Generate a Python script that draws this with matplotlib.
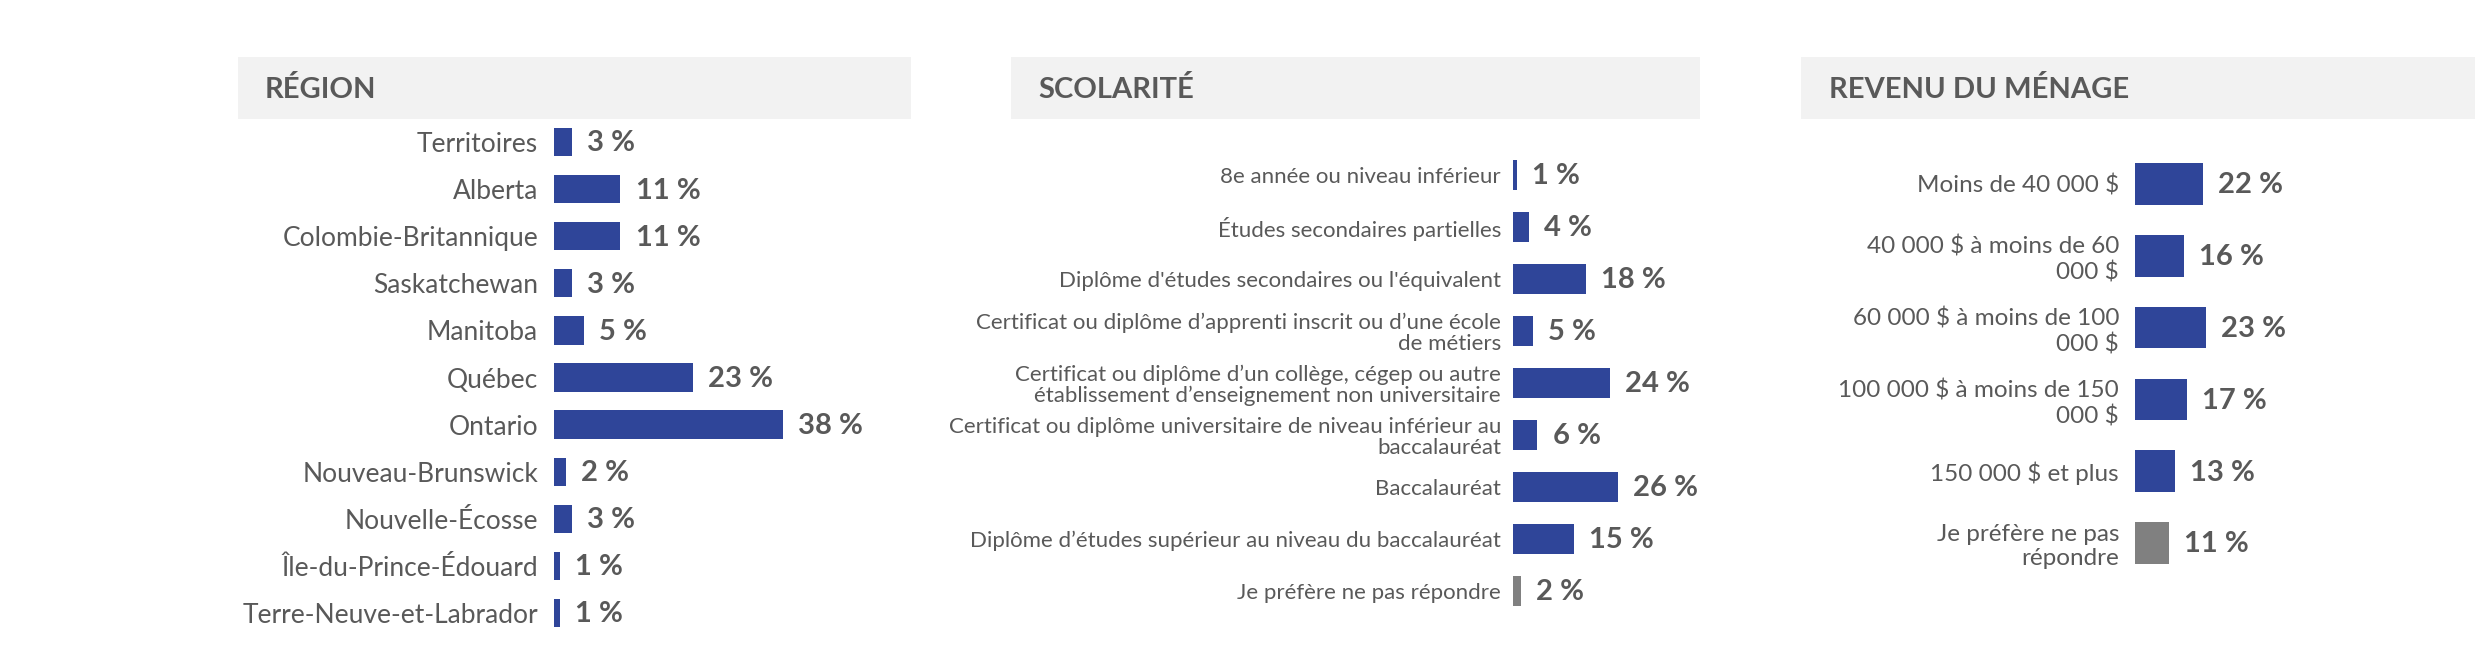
import numpy as np
import matplotlib
matplotlib.use('Agg')
import matplotlib.pyplot as plt
from matplotlib.patches import Rectangle

plt.rcParams['font.family'] = ['Lato', 'DejaVu Sans']

# data
region_labels = ['Territoires', 'Alberta', 'Colombie-Britannique', 'Saskatchewan', 'Manitoba',
                 'Québec', 'Ontario', 'Nouveau-Brunswick', 'Nouvelle-Écosse',
                 'Île-du-Prince-Édouard', 'Terre-Neuve-et-Labrador']
region_values = [3, 11, 11, 3, 5, 23, 38, 2, 3, 1, 1]

scol_labels = ['8e année ou niveau inférieur',
               'Études secondaires partielles',
               "Diplôme d'études secondaires ou l'équivalent",
               'Certificat ou diplôme d’apprenti inscrit ou d’une école\nde métiers',
               'Certificat ou diplôme d’un collège, cégep ou autre\nétablissement d’enseignement non universitaire',
               'Certificat ou diplôme universitaire de niveau inférieur au\nbaccalauréat',
               'Baccalauréat',
               'Diplôme d’études supérieur au niveau du baccalauréat',
               'Je préfère ne pas répondre']
scol_values = [1, 4, 18, 5, 24, 6, 26, 15, 2]

rev_labels = ['Moins de 40 000 $',
              '40 000 $ à moins de 60\n000 $',
              '60 000 $ à moins de 100\n000 $',
              '100 000 $ à moins de 150\n000 $',
              '150 000 $ et plus',
              'Je préfère ne pas\nrépondre']
rev_values = [22, 16, 23, 17, 13, 11]

BLUE = '#2F4599'
GREY = '#808080'
TXT = '#595959'

W, H = 2475, 650
fig = plt.figure(figsize=(W / 100, H / 100), dpi=100)


def px_axes(left, right, top, bottom):
    return fig.add_axes([left / W, 1 - bottom / H, (right - left) / W, (bottom - top) / H])


def header(x0, x1, title, tx):
    fig.add_artist(Rectangle((x0 / W, 1 - 119 / H), (x1 - x0) / W, 62 / H,
                             transform=fig.transFigure, facecolor='#F2F2F2', edgecolor='none'))
    fig.text(tx / W, 1 - 89 / H, title, fontsize=21, fontweight='bold', color=TXT,
             ha='left', va='center')


def panel(ax, labels, values, xmax, gray_last, label_size, pad, height, lsp=1.15):
    n = len(values)
    y = np.arange(n)
    colors = [BLUE] * n
    if gray_last:
        colors[-1] = GREY
    ax.barh(y, values, height=height, color=colors)
    ax.set_xlim(0, xmax)
    ax.set_ylim(n - 0.5, -0.5)
    ax.set_yticks(y)
    ax.set_yticklabels(labels, fontsize=label_size, color=TXT, linespacing=lsp)
    ax.tick_params(axis='y', length=0, pad=pad)
    ax.set_xticks([])
    for s in ax.spines.values():
        s.set_visible(False)
    for yi, v in zip(y, values):
        ax.annotate(f'{v} %', (v, yi), xytext=(11, -1), textcoords='offset points',
                    ha='left', va='center', fontsize=21, fontweight='bold', color=TXT)


header(238, 911, 'RÉGION', 265)
header(1011, 1700, 'SCOLARITÉ', 1038)
header(1801, 2475, 'REVENU DU MÉNAGE', 1829)

ax1 = px_axes(554, 554 + 6.03 * 50, 118.5, 636.5)
panel(ax1, region_labels, region_values, 50, False, 19, 11.5, 0.6)

ax2 = px_axes(1513, 1513 + 4.04 * 40, 149, 617)
panel(ax2, scol_labels, scol_values, 40, True, 16, 8.6, 0.58, lsp=1.05)

ax3 = px_axes(2135, 2135 + 3.07 * 40, 148, 579)
panel(ax3, rev_labels, rev_values, 40, True, 17.5, 11.5, 0.58, lsp=1.2)

fig.savefig('out.png', dpi=100)
